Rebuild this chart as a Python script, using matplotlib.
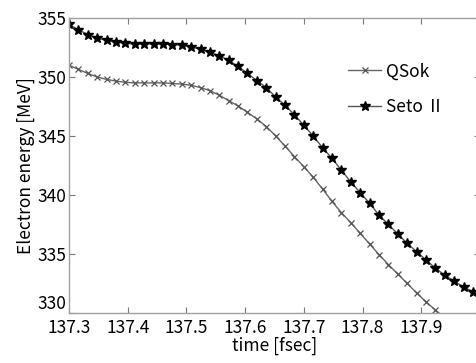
import numpy as np
import matplotlib
matplotlib.use("Agg")
import matplotlib.pyplot as plt

plt.rcParams['font.family'] = ['Noto Sans CJK JP', 'DejaVu Sans']

# time grid [fsec]
t0 = 137.30
dt = 0.016

seto = [354.45, 354.0, 353.6, 353.3, 353.1, 352.95, 352.85, 352.8, 352.8, 352.8,
        352.8, 352.75, 352.7, 352.55, 352.35, 352.1, 351.8, 351.4, 350.9, 350.3,
        349.7, 349.1, 348.3, 347.6, 346.8, 345.9, 345.0, 344.0, 343.1, 342.1,
        341.1, 340.2, 339.3, 338.3, 337.5, 336.7, 335.9, 335.2, 334.5, 333.8,
        333.2, 332.7, 332.2, 331.8]

qsok = [351.0, 350.65, 350.3, 350.0, 349.8, 349.65, 349.55, 349.5, 349.5, 349.5,
        349.5, 349.45, 349.4, 349.3, 349.1, 348.85, 348.45, 348.0, 347.55, 347.0,
        346.45, 345.8, 345.0, 344.15, 343.25, 342.4, 341.5, 340.5, 339.45, 338.5,
        337.65, 336.75, 335.85, 334.95, 334.1, 333.3, 332.5, 331.7, 330.95, 330.25,
        329.6]

xticks = [137.3, 137.4, 137.5, 137.6, 137.7, 137.8, 137.9]
yticks = [330, 335, 340, 345, 350, 355]

t_seto = t0 + dt * np.arange(len(seto))
t_qsok = t0 + dt * np.arange(len(qsok))

fig = plt.figure(figsize=(4.77, 3.63), dpi=100)
ax = fig.add_axes([69 / 477, 50 / 363, 411 / 477, 295 / 363])

ax.plot(t_qsok, qsok, color='#666666', lw=1.0, marker='x', ms=4.5,
        mec='#555555', mew=0.9, label='QSok')
ax.plot(t_seto, seto, color='#555555', lw=1.0, marker='*', ms=7.5,
        mfc='black', mec='black', label='Seto Ⅱ')

ax.set_xlim(137.3, 138.0)
ax.set_ylim(330, 355)
ax.set_xticks(xticks)
ax.set_xticklabels([f"{v:.1f}" for v in xticks])
ax.set_yticks(yticks)

for s in ax.spines.values():
    s.set_color('#a0a0a0')
    s.set_linewidth(1.0)
ax.tick_params(direction='in', top=True, right=True, length=4, width=0.8,
               color='#777777', labelsize=12.5)
ax.tick_params(axis='x', pad=4)
ax.tick_params(axis='y', pad=2)
# lift the lowest y label a touch so it clears the 137.3 label
ax.get_yticklabels()[0].set_verticalalignment('bottom')

ax.set_xlabel('time [fsec]', fontsize=12.5, labelpad=0)
ax.set_ylabel('Electron energy [MeV]', fontsize=12.5, labelpad=2)

ax.legend(loc='upper left', bbox_to_anchor=(0.679, 0.85), frameon=False,
          fontsize=12.5, borderpad=0, borderaxespad=0, handlelength=1.9,
          handletextpad=0.3, labelspacing=1.05)

fig.savefig('out.png', dpi=100)
